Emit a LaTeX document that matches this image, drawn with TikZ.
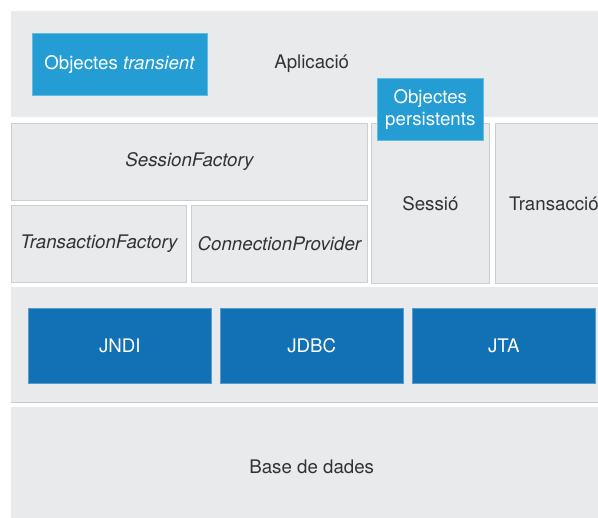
\documentclass[tikz,border=0pt]{standalone}
\usepackage{fontspec}
\setmainfont{TeX Gyre Heros}
\usepackage{xcolor}
\usetikzlibrary{positioning}
\definecolor{bandgray}{HTML}{E9EAEC}
\definecolor{edgegray}{HTML}{CDCED0}
\definecolor{txtgray}{HTML}{333333}
\definecolor{objblue}{HTML}{239DD4}
\definecolor{apiblue}{HTML}{1270B4}

\begin{document}
\begin{tikzpicture}[x=1pt,y=-1pt,
  every node/.style={inner sep=0pt,anchor=north west,
    font=\fontsize{18.7}{22}\selectfont},
  band/.style={fill=bandgray,text=txtgray},
  tile/.style={fill=bandgray,draw=edgegray,line width=0.8pt,text=txtgray},
  objbox/.style={fill=objblue,draw=objblue!70!white,line width=0.6pt,text=white,align=center},
  apibox/.style={fill=apiblue,draw=apiblue!70!white,line width=0.6pt,text=white}]
  \useasboundingbox (0,0) rectangle (598,518);
  \clip (0,0) rectangle (598,518);
  % layers
  \node[band,minimum width=601,minimum height=106] (app) at (11,11) {Aplicació};
  \node[band,minimum width=601,minimum height=115] (api) at (11,287) {};
  \draw[edgegray!80!black!60,line width=0.8pt] (api.south west) -- (api.south east);
  \node[band,minimum width=601,minimum height=120] (db) at (11,407) {Base de dades};
  % hibernate blocks
  \node[tile,minimum width=356,minimum height=77] (sfact) at (11,123) {\itshape SessionFactory};
  \node[tile,minimum width=175,minimum height=77] (tfact) at (11,205) {\itshape TransactionFactory};
  \node[tile,minimum width=176,minimum height=77] (cprov) at (191,205) {\itshape ConnectionProvider};
  \node[tile,minimum width=118,minimum height=160] (sess) at (371,123) {Sessió};
  \node[tile,minimum width=117,minimum height=160] (trans) at (495,123) {Transacció};
  % objects
  \node[objbox,minimum width=175,minimum height=62] (otrans) at (32,33) {Objectes \textit{transient}};
  \node[objbox,minimum width=106,minimum height=62] (opers) at (377,78) {Objectes\\persistents};
  % java apis
  \foreach \x/\nm/\lab in {28/jndi/JNDI,220/jdbc/JDBC,412/jta/JTA} {
    \node[apibox,minimum width=183,minimum height=75] (\nm) at (\x,308) {\lab};
  }
\end{tikzpicture}
\end{document}
